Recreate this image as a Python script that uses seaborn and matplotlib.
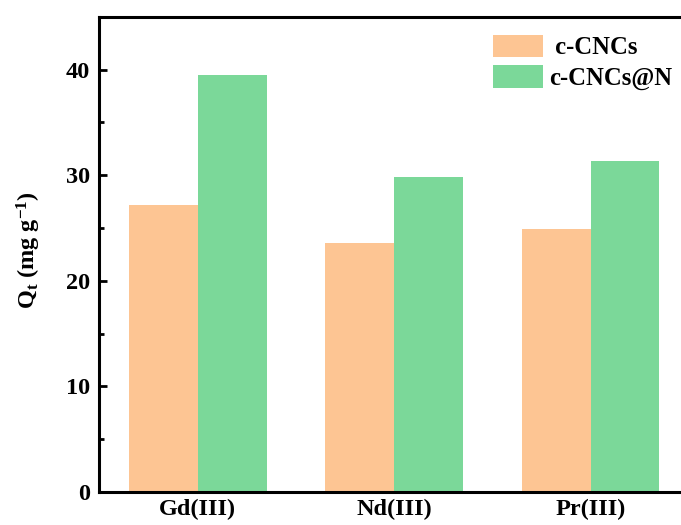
import matplotlib
matplotlib.use("Agg")
import matplotlib.pyplot as plt
from matplotlib.ticker import MultipleLocator
import pandas as pd
import seaborn as sns

# Adsorption capacity of the two sorbents for each rare-earth ion
ions = ["Gd(III)", "Nd(III)", "Pr(III)"]
sorbents = ["c-CNCs", "c-CNCs@N"]
q_cncs = [27.13, 23.6, 24.92]
q_cncs_n = [39.49, 29.78, 31.35]
palette = ["#FDC593", "#7BD899"]

df = pd.DataFrame({
    "ion": ions * 2,
    "sorbent": [sorbents[0]] * len(ions) + [sorbents[1]] * len(ions),
    "Qt": q_cncs + q_cncs_n,
})

sns.set_theme(style="ticks")
plt.rcParams["font.family"] = ["Liberation Serif", "DejaVu Serif"]
plt.rcParams["font.weight"] = "bold"
plt.rcParams["text.color"] = "black"
plt.rcParams["axes.labelcolor"] = "black"
plt.rcParams["xtick.color"] = "black"
plt.rcParams["ytick.color"] = "black"
plt.rcParams["mathtext.fontset"] = "custom"
plt.rcParams["mathtext.rm"] = "Liberation Serif:bold"
plt.rcParams["mathtext.bf"] = "Liberation Serif:bold"
plt.rcParams["mathtext.it"] = "Liberation Serif:bold"

fig = plt.figure(figsize=(6.81, 5.25), dpi=100)
ax = fig.add_axes([0.1461, 0.0627, 0.8656, 0.9055])

sns.barplot(data=df, x="ion", y="Qt", hue="sorbent", hue_order=sorbents,
            palette=palette, width=0.7, saturation=1, ax=ax,
            edgecolor="none", linewidth=0, errorbar=None)

ax.set_xlim(-0.5, 2.5)
ax.set_ylim(0, 45)
ax.yaxis.set_major_locator(MultipleLocator(10))
ax.yaxis.set_minor_locator(MultipleLocator(5))

for side in ["left", "bottom", "top"]:
    ax.spines[side].set_linewidth(2.2)
    ax.spines[side].set_color("black")
ax.spines["right"].set_visible(False)

ax.tick_params(axis="both", which="major", direction="in", length=6,
               width=2.0, color="black", labelcolor="black")
ax.tick_params(axis="y", which="major", labelsize=17.5, pad=7)
ax.tick_params(axis="y", which="minor", direction="in", length=3.5,
               width=2.0, color="black")
ax.tick_params(axis="x", which="major", labelsize=17.5, pad=5)
ax.tick_params(top=False, right=False)
for lab in ax.get_xticklabels() + ax.get_yticklabels():
    lab.set_fontweight("bold")

ax.set_xlabel("")
ax.set_ylabel(r"$\mathbf{Q_t}$ (mg g$^{\mathbf{-1}}$)", fontsize=17.5,
              fontweight="bold", color="black")
ax.yaxis.set_label_coords(-0.096, 0.509)

handles, _ = ax.get_legend_handles_labels()
ax.legend(handles, [" " + sorbents[0], sorbents[1]], loc="upper left",
          bbox_to_anchor=(0.668, 0.962), frameon=False, borderpad=0,
          borderaxespad=0, handlelength=2.03, handleheight=1.02,
          handletextpad=0.25, labelspacing=0.24,
          prop={"weight": "bold", "size": 17.7})

fig.savefig("out.png", dpi=100)
